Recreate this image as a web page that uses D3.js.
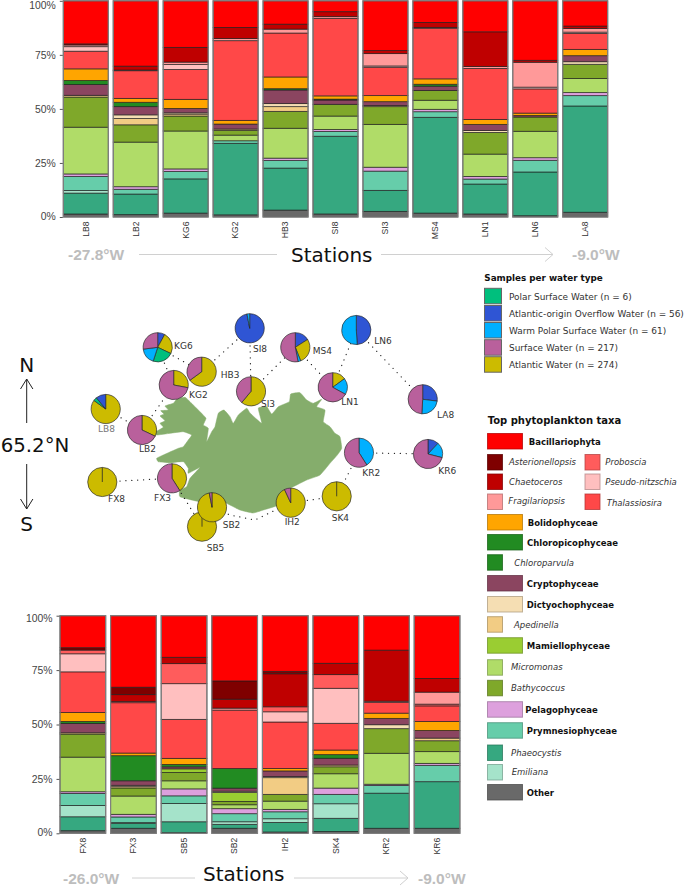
<!DOCTYPE html>
<html>
<head>
<meta charset="utf-8">
<script src="https://cdn.jsdelivr.net/npm/d3@7"></script>
<style>html,body{margin:0;padding:0;background:#fff}svg{display:block}</style>
</head>
<body>
<svg id="c" width="685" height="886"></svg>
<script>
// Taxa, stacking order bottom to top
const taxa = ["Other","Phaeocystis","Emiliana","Prymnesiophyceae","Pelagophyceae","Micromonas","Bathycoccus","Mamiellophyceae","Apedinella","Dictyochophyceae","Cryptophyceae","Chloroparvula","Chloropicophyceae","Bolidophyceae","Thalassiosira","Pseudo-nitzschia","Proboscia","Fragilariopsis","Chaetoceros","Asterionellopsis","Bacillariophyta"];
const taxaColors = ["#696969","#36a880","#a5e3ca","#66cdaa","#dda0dd","#b0dc68","#7fa82a","#9acd32","#f2cc84","#f5deb3","#8b4560","#228b22","#228b22","#ffa500","#ff4848","#ffbfbf","#ff5c5c","#ff9999","#bf0000","#7f0000","#ff0000"];

const topStations = ["LB8","LB2","KG6","KG2","HB3","SI8","SI3","MS4","LN1","LN6","LA8"];
const bottomStations = ["FX8","FX3","SB5","SB2","IH2","SK4","KR2","KR6"];

// percent per station, same order as taxa
const vLB8 = [1.4,9.7,1.2,6.5,1.2,21.7,14,0,0.8,0,5,1.9,0,5.4,8.2,2.1,0,0.8,0.5,0,20];
const vLB2 = [1.1,9.5,0,2.2,1.2,20.6,8,0,2.9,1.7,3.8,2,0,1.8,12.8,0.3,0,0,1.8,0,30.2];
const vKG6 = [1.8,15.8,0,3.4,1.2,17.5,6.9,0,0.9,0.6,2,0,0,4.2,13.8,2.3,0,1.1,6.8,0,21.5];
const vKG2 = [1,33,0,1.2,0,2.6,2.2,0,0.6,0,2.3,0,0,1.7,36.8,0,0,1,5.1,0,12.3];
const vHB3 = [3.2,19.4,0,3.5,1.1,13.8,7.8,0,2.2,1.4,6.3,0.6,0,5.4,20.3,0,0,1.8,2.3,0,10.8];
const vSI8 = [1.4,35.8,0,2.2,0.9,6.2,5.4,0,0,0,2,0.4,0,1.5,35.7,0,0,0.8,2.3,0,5];
const vSI3 = [2.6,9.7,0,8.9,1.8,19.8,8.2,0,0.5,0,1.8,0,0,2.8,13.1,0.6,0,5.7,1.4,0,23];
const vMS4 = [1.8,44.3,0,2.6,1.1,4.2,4.5,0,0,0,2,0.9,0,2.5,23.4,0,0,0.4,2.3,0,10];
const vLN1 = [1.4,13.8,0,2.3,1.2,10.3,10,0,0,0.9,2.8,0,0,2.3,23.5,0,0,0.9,16,0,14.3];
const vLN6 = [0.6,20.2,0,5.4,1.2,12.2,6.6,0,0,0,0.7,0,0,1.1,11.2,0.8,0,11.5,0.9,0,27.5];
const vLA8 = [2.2,49.2,0,4.8,1.4,6.5,6.6,0,0,1.2,2.8,0,0,2.9,7.4,0.6,0,1.7,1.1,0,11.7];
const vFX8 = [1.2,6.4,5.2,5.5,0.8,15.9,10.6,0,0.6,0,4.3,0.9,0,4.1,18.7,8.3,1.7,0,0,1.1,14.7];
const vFX3 = [2.3,2.3,0.3,2.6,1.2,8.4,3.7,0,0.6,0.6,2.1,11.5,0,1.2,23.1,0,0.6,0,3.1,3.4,32.8];
const vSB5 = [0.3,5,8.4,3.5,3.2,3.7,3.8,1.7,0,0,0.9,1.1,0,2.8,17.9,16.4,9.2,0,2.9,0,19.1];
const vSB2 = [2.3,1.8,1.2,3.7,2.3,1.8,1.5,4.1,0,0.6,1.4,9,0,0,26.8,0,0,0.9,4.1,8.4,29.9];
const vIH2 = [0.6,4.4,1.7,3.2,1.1,3.8,3.1,0,7.7,0.5,2.6,0,0,1.1,21.4,4.7,2.3,0,15.2,1.1,25.6];
const vSK4 = [0.8,6.1,6.7,4.3,2.9,6.6,3.2,0,0.8,0,3.1,1.7,0,2.1,12.3,16.1,6.3,0,5.2,0,21.9];
const vKR2 = [2.3,16.1,0,3.5,0.6,14.2,11.3,0,0,1.8,2.9,0,0,2.4,5,0,0,0.5,23.4,0,15.8];
const vKR6 = [2.3,21.4,0,7.5,0.9,5.4,5,0,1.2,0,3.5,0,0,4.1,7.2,0,0.8,5.5,6.3,0,28.8];

const yTicks = [0,25,50,75,100];

// Water types
const waterNames = ["Polar Surface Water (n = 6)","Atlantic-origin Overflow Water (n = 56)","Warm Polar Surface Water (n = 61)","Surface Water (n = 217)","Atlantic Water (n = 274)"];
const waterKeys = ["PSW","AOW","WPSW","SW","AW"];
const waterColors = ["#00bf7d","#2f55d4","#00b0ff","#b9609c","#ccbb00"];

// pie slices in clockwise order from the top
const pieLB8 = [["AW",85],["PSW",4],["AOW",11]];
const pieLB2 = [["AW",32],["SW",68]];
const pieKG6 = [["AOW",8],["AW",24],["PSW",23],["WPSW",18],["SW",27]];
const pieKG2 = [["AW",28],["SW",72]];
const pieHB3 = [["AW",65],["SW",35]];
const pieSI8 = [["AOW",97],["WPSW",3]];
const pieSI3 = [["AW",61],["SW",39]];
const pieMS4 = [["AOW",16],["AW",28],["WPSW",3],["SW",53]];
const pieLN1 = [["AW",15],["WPSW",18],["SW",67]];
const pieLN6 = [["AOW",49],["WPSW",51]];
const pieLA8 = [["AOW",27],["WPSW",24],["SW",49]];
const pieFX8 = [["AW",100]];
const pieFX3 = [["AW",41],["SW",59]];
const pieSB5 = [["AW",100]];
const pieSB2 = [["AW",97],["SW",3]];
const pieIH2 = [["AW",93],["SW",7]];
const pieSK4 = [["AW",100]];
const pieKR2 = [["WPSW",41],["SW",59]];
const pieKR6 = [["AOW",12],["WPSW",17],["SW",71]];

const valueRows = {LB8:vLB8,LB2:vLB2,KG6:vKG6,KG2:vKG2,HB3:vHB3,SI8:vSI8,SI3:vSI3,MS4:vMS4,LN1:vLN1,LN6:vLN6,LA8:vLA8,FX8:vFX8,FX3:vFX3,SB5:vSB5,SB2:vSB2,IH2:vIH2,SK4:vSK4,KR2:vKR2,KR6:vKR6};
const pieRows = {LB8:pieLB8,LB2:pieLB2,KG6:pieKG6,KG2:pieKG2,HB3:pieHB3,SI8:pieSI8,SI3:pieSI3,MS4:pieMS4,LN1:pieLN1,LN6:pieLN6,LA8:pieLA8,FX8:pieFX8,FX3:pieFX3,SB5:pieSB5,SB2:pieSB2,IH2:pieIH2,SK4:pieSK4,KR2:pieKR2,KR6:pieKR6};

// ---- layout ----
const svg = d3.select("#c");
const SANS = "'Liberation Sans',Arial,sans-serif", DJ = "'DejaVu Sans',Verdana,sans-serif";

function stackedPanel(stations, x0, barW, step, yBot, yTop, nudge100, nudge0){
  const x = d3.scaleBand().domain(stations).range([x0, x0 + step*stations.length - (step-barW)]).paddingInner((step-barW)/step).paddingOuter(0);
  const y = d3.scaleLinear().domain([0,1]).range([yBot,yTop]);
  const table = stations.map(s => { const o={station:s}; taxa.forEach((t,i)=>o[t]=valueRows[s][i]); return o; });
  const series = d3.stack().keys(taxa).offset(d3.stackOffsetExpand)(table);
  const g = svg.append("g");
  series.forEach((s,i)=>{
    g.append("g").attr("fill",taxaColors[i]).selectAll("rect")
      .data(s.filter(d=>d[1]-d[0]>0)).join("rect")
      .attr("x",d=>x(d.data.station)).attr("width",x.bandwidth())
      .attr("y",d=>y(d[1])).attr("height",d=>y(d[0])-y(d[1]))
      .attr("stroke","#1c1c1c").attr("stroke-opacity",0.75).attr("stroke-width",0.85);
  });
  g.append("g").selectAll("rect").data(stations).join("rect")
    .attr("x",d=>x(d)).attr("width",x.bandwidth()).attr("y",yTop).attr("height",yBot-yTop)
    .attr("fill","none").attr("stroke","#808080").attr("stroke-width",1.2);
  const axL = d3.axisLeft(y).tickValues(yTicks.map(d=>d/100)).tickFormat(d=>Math.round(d*100)+"%").tickSize(3).tickPadding(4);
  const gl = g.append("g").attr("transform",`translate(${x0-0.5},0)`).call(axL);
  gl.select(".domain").remove();
  gl.selectAll("line").attr("stroke","#555");
  gl.selectAll("text").attr("font-family",SANS).attr("font-size",10.4).attr("fill","#444")
    .attr("y",d=>d===1?nudge100:d===0?nudge0:0);
  const axB = d3.axisBottom(x).tickSize(0);
  const gb = g.append("g").attr("transform",`translate(0,${yBot})`).call(axB);
  gb.select(".domain").remove();
  gb.selectAll("text").attr("font-family",SANS).attr("font-size",8.6).attr("fill","#333")
    .attr("text-anchor","end").attr("transform","rotate(-90)").attr("x",-4.5).attr("y",0).attr("dy","0.33em");
}
stackedPanel(topStations, 63.3, 45, 49.94, 217, 0.8, 4.3, -0.7);
stackedPanel(bottomStations, 60, 45.7, 50.6, 833.3, 615.7, 2.7, -1);

function stationsAxis(cfg){
  const g = svg.append("g");
  g.append("text").attr("x",cfg.leftX).attr("y",cfg.y+5.5).text(cfg.left).attr("font-family",SANS).attr("font-weight","bold").attr("font-size",15.5).attr("fill","#bdbdbd");
  g.append("text").attr("x",cfg.right0).attr("y",cfg.y+5.5).text("-9.0°W").attr("font-family",SANS).attr("font-weight","bold").attr("font-size",15.5).attr("fill","#bdbdbd");
  g.append("text").attr("x",cfg.titleX).attr("y",cfg.textY).text("Stations").attr("font-family",DJ).attr("font-size",20).attr("fill","#111");
  const ln = d3.line();
  g.append("path").attr("d",ln([[cfg.l0,cfg.y],[cfg.l1,cfg.y]])).attr("stroke","#d0d0d0").attr("stroke-width",1).attr("fill","none");
  g.append("path").attr("d",ln([[cfg.r0,cfg.y],[cfg.r1,cfg.y]])).attr("stroke","#d0d0d0").attr("stroke-width",1).attr("fill","none");
  g.append("path").attr("d",ln([[cfg.r1-8,cfg.y-7],[cfg.r1,cfg.y],[cfg.r1-8,cfg.y+7]])).attr("stroke","#d0d0d0").attr("stroke-width",1).attr("fill","none");
}
stationsAxis({left:"-27.8°W",leftX:68,right0:572,titleX:291,y:254.5,textY:262,l0:139,l1:277,r0:381,r1:553});
stationsAxis({left:"-26.0°W",leftX:63,right0:418,titleX:203,y:878,textY:881,l0:132,l1:195,r0:294,r1:408});

// ---- Iceland ----
const icelandOutline = [[250,413],[261.7,423.3],[258.3,408.3],[266.7,406.7],[271.7,414],[278.3,406.7],[289.3,401.7],[290.7,394],[300,392.7],[306.7,400],[313.3,403.3],[321.7,399.3],[316.7,406.7],[325,410],[323.3,421.7],[330,426.7],[335,433.3],[340,436.7],[341.7,448.3],[337.3,455],[330,463.3],[320,475],[306.7,480],[293.3,486.7],[281.7,491.7],[278.3,505],[263.3,510],[253,513],[240,510],[230,505],[215,498],[200,501.7],[180,496.7],[180,490],[186.7,486.7],[190,478.3],[200,467.3],[188.3,473.3],[188.3,468.3],[183.3,461.7],[170,462.7],[158.3,461.7],[156.7,458.3],[163.3,455],[178.3,448.3],[183.3,446.7],[188.3,440],[191.7,435],[183.3,431.7],[170,433.3],[156.7,435],[156,431.7],[163.3,427.3],[160,423.3],[165,420.7],[160,416],[164,414],[160.7,410.7],[168.3,410],[165,406],[173.3,403.3],[176.7,399.3],[185,397.3],[190,401.7],[200,411.7],[206,418.3],[203.3,425],[208.3,428.3],[206.7,441.7],[211.7,431.7],[215,426.7],[218.3,413.3],[224,410],[230,416.7],[233.3,423.3],[238.3,415],[246.7,408.3]];
svg.append("path").attr("d",d3.line().curve(d3.curveCardinalClosed.tension(0.6))(icelandOutline)).attr("fill","#85ad6c").attr("stroke","#85ad6c").attr("stroke-width",0.5).attr("stroke-linejoin","round");

// ---- stations map ----
const pieCenters = {KG6:[157.7,347.3],HB3:[201.7,371.7],KG2:[173.7,385],LB8:[105.7,409],LB2:[142,430],FX8:[102.3,482],FX3:[172,478.3],SB5:[202,526.7],SB2:[212,507.3],SI8:[249.7,328.3],MS4:[295.3,347.3],LN6:[356.3,330],SI3:[251,391.3],LN1:[332.7,387.3],LA8:[422.7,399.3],KR2:[359,452.7],KR6:[428,454],SK4:[336.7,496.3],IH2:[290.7,502.7]};
const labelPos = {KG6:[174,345.7],HB3:[220.7,374.7],KG2:[189,394.7],LB8:[98,429],LB2:[139,449],FX8:[108,499],FX3:[154,498],SB2:[222.7,524.7],SB5:[206.7,547.7],SI8:[253,348.3],MS4:[312.7,350.3],LN6:[374.3,340.3],SI3:[261,403.3],LN1:[341.3,401.7],LA8:[437,415],KR2:[362.3,472.7],KR6:[438.3,471],SK4:[331.7,517.3],IH2:[284.7,522]};
const routes = [["LB8","LB2"],["LB2","KG2"],["KG2","KG6"],["KG6","HB3"],["HB3","SI8"],["SI8","SI3"],["SI3","MS4"],["MS4","LN1"],["LN1","LN6"],["LN6","LA8"],["KR2","KR6"],["KR2","SK4"],["SK4","IH2"],["FX8","FX3"],["FX3","SB5"],["SB5","SB2"]];
const dots = svg.append("g").attr("fill","none").attr("stroke","#222").attr("stroke-width",1.25).attr("stroke-linecap","round").attr("stroke-dasharray","0.1 5.8");
routes.forEach(r=>dots.append("path").attr("d",d3.line()([pieCenters[r[0]],pieCenters[r[1]]])));
dots.append("path").attr("d",d3.line()([pieCenters.SB2,[230,515],[255,520],pieCenters.IH2]));

const colorOf = d3.scaleOrdinal().domain(waterKeys).range(waterColors);
const pieGen = d3.pie().sort(null).value(d=>d[1]);
const arcGen = d3.arc().innerRadius(0).outerRadius(14.6);
Object.keys(pieCenters).forEach(k=>{
  const g = svg.append("g").attr("transform",`translate(${pieCenters[k]})`);
  const arcs = pieGen(pieRows[k]);
  g.selectAll("path").data(arcs).join("path").attr("d",arcGen).attr("fill",d=>colorOf(d.data[0])).attr("stroke","#2a2a2a").attr("stroke-opacity",0.85).attr("stroke-width",0.8);
  if(arcs.length===1) g.append("path").attr("d",d3.line()([[0,0],[0,-14.6]])).attr("stroke","#2a2a2a").attr("stroke-width",0.8);
});
const labelsG = svg.append("g").attr("font-family",DJ).attr("font-size",9);
Object.keys(labelPos).forEach(k=>{
  labelsG.append("text").attr("x",labelPos[k][0]).attr("y",labelPos[k][1]).attr("dy","0.36em").attr("fill",k==="LB8"?"#777":"#333").text(k);
});

// ---- compass ----
const cg = svg.append("g").attr("font-family",DJ).attr("font-size",20).attr("fill","#111").attr("text-anchor","middle");
cg.append("text").attr("x",26.7).attr("y",372).text("N");
cg.append("text").attr("x",26.7).attr("y",531.3).text("S");
cg.append("text").attr("x",35).attr("y",451.6).attr("font-size",19.8).text("65.2°N");
const aline = d3.line();
[[[26.7,423],[26.7,379]],[[20.5,389],[26.7,379],[32.9,389]],[[26.7,464],[26.7,509]],[[20.5,499],[26.7,509],[32.9,499]]].forEach(p=>{
  svg.append("path").attr("d",aline(p)).attr("fill","none").attr("stroke","#222").attr("stroke-width",1);
});

// ---- legends ----
const lg1 = svg.append("g").attr("font-family",DJ);
lg1.append("text").attr("x",484.3).attr("y",278).attr("dy","0.36em").attr("font-weight","bold").attr("font-size",8.8).attr("fill","#111").text("Samples per water type");
const lg1Y = [288.3,305.5,322.5,339.7,356.7];
waterNames.forEach((n,i)=>{
  lg1.append("rect").attr("x",484.5).attr("y",lg1Y[i]).attr("width",17).attr("height",15.5).attr("fill",waterColors[i]).attr("stroke","#666").attr("stroke-width",1);
  lg1.append("text").attr("x",509).attr("y",lg1Y[i]+8).attr("dy","0.36em").attr("font-size",8.95).attr("fill","#333").text(n);
});

const lg2Items = [
 ["Bacillariophyta",487.5,433.5,1,528.7,441.7],["Asterionellopsis",487.5,454.5,0,509,461.7],["Chaetoceros",487.5,474,0,509,482],["Fragilariopsis",487.5,494,0,508.3,501],
 ["Proboscia",585,454.5,0,605.3,462],["Pseudo-nitzschia",585,474,0,605.3,482],["Thalassiosira",585,494,0,606.7,503],
 ["Bolidophyceae",487.5,514.5,1,527.7,523],["Chloropicophyceae",487.5,534.5,1,527,543.3],["Chloroparvula",487.5,554.7,0,514.3,562.7],
 ["Cryptophyceae",487.5,575.5,1,526.7,584],["Dictyochophyceae",487.5,596.5,1,526.7,605.3],["Apedinella",487.5,616.7,0,514,624.7],
 ["Mamiellophyceae",487.5,637.7,1,526.7,646],["Micromonas",487.5,659.7,0,511,667.3],["Bathycoccus",487.5,680.3,0,511,688],
 ["Pelagophyceae",487.5,701.7,1,525.3,710.3],["Prymnesiophyceae",487.5,722.7,1,526.7,731],["Phaeocystis",487.5,745,0,511,752.7],["Emiliana",487.5,764.5,0,511.7,771.7],["Other",487.5,784.5,1,526.7,792.7]
];
const lg2 = svg.append("g").attr("font-family",DJ);
lg2.append("text").attr("x",487.7).attr("y",420.7).attr("dy","0.36em").attr("font-weight","bold").attr("font-size",10).attr("fill","#111").text("Top phytoplankton taxa");
const taxaColor = d3.scaleOrdinal().domain(taxa).range(taxaColors);
lg2Items.forEach(([n,x,y,big,tx,ty])=>{
  const base = d3.color(taxaColor(n));
  lg2.append("rect").attr("x",x).attr("y",y).attr("width",big?35:15).attr("height",15.5).attr("fill",base).attr("stroke",base.darker(1)).attr("stroke-opacity",0.75).attr("stroke-width",1);
  lg2.append("text").attr("x",tx).attr("y",ty).attr("dy","0.36em").attr("font-size",8.5)
    .attr("font-weight",big?"bold":"normal").attr("font-style",big?"normal":"italic").attr("fill",big?"#111":"#333").text(n);
});
</script>
</body>
</html>
